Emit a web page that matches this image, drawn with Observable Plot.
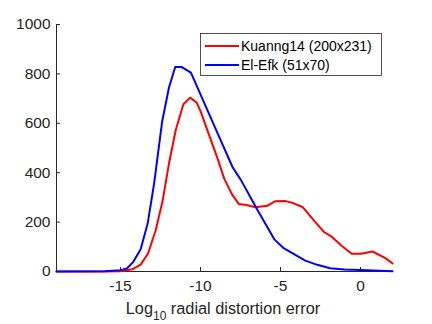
<!DOCTYPE html>
<html>
<head>
<meta charset="utf-8">
<script src="https://cdn.jsdelivr.net/npm/d3@7"></script>
<script src="https://cdn.jsdelivr.net/npm/@observablehq/plot@0.6"></script>
<style>
  html, body { margin: 0; padding: 0; background: #fff; }
  #chart { width: 432px; height: 324px; }
</style>
</head>
<body>
<div id="chart"></div>
<script>
// Series: Kuanng14 (200x231)
const kuangX = [-19, -16, -15, -14.8, -14.26, -13.74, -13.28, -12.8, -12.38, -11.97, -11.55, -11.07, -10.65, -10.23, -9.98, -9.35, -8.93, -8.52, -8.0, -7.6, -7.13, -6.56, -5.83, -5.35, -4.68, -4.17, -3.6, -2.85, -2.28, -1.8, -1.18, -0.55, 0.02, 0.75, 1.53, 2.0];
const kuangY = [0, 0, 1, 3, 9, 28, 73, 167, 282, 437, 572, 677, 704, 683, 646, 532, 457, 376, 309, 273, 269, 260, 266, 284, 285, 276, 260, 202, 160, 141, 104, 72, 72, 81, 55, 33];
// Series: El-Efk (51x70)
const elefkX = [-19, -16, -15, -14.6, -14.2, -13.74, -13.3, -12.9, -12.4, -11.97, -11.58, -11.2, -10.6, -8.93, -8.0, -7.47, -6.5, -5.37, -4.83, -4.1, -3.45, -2.7, -1.9, -1.0, 0, 2];
const elefkY = [0, 1, 5, 12, 39, 90, 195, 356, 606, 745, 828, 828, 805, 559, 423, 370, 256, 129, 96, 68, 44, 27, 13, 8, 6, 1];
const seriesNames = ["Kuanng14 (200x231)", "El-Efk (51x70)"];
const seriesColors = ["#ff0000", "#0000ff"];
const xTicks = [-15, -10, -5, 0];
const yTicks = [0, 200, 400, 600, 800, 1000];
const xDomain = [-19, 2];
const yDomain = [0, 1000];

const kuang = kuangX.map((x, i) => ({x, y: kuangY[i]}));
const elefk = elefkX.map((x, i) => ({x, y: elefkY[i]}));

const ink = "#262626";
const plot = Plot.plot({
  width: 432,
  height: 324,
  marginLeft: 56,
  marginRight: 40,
  marginTop: 24,
  marginBottom: 53,
  x: {domain: xDomain},
  y: {domain: yDomain},
  style: {fontFamily: "'Liberation Sans', Arial, sans-serif", color: ink, background: "#fff", overflow: "visible"},
  marks: [
    Plot.axisY({ticks: yTicks, tickSize: -4, tickPadding: 10, fontSize: 15.5, label: null, stroke: ink, tickFormat: d => String(d)}),
    Plot.axisX({ticks: xTicks, tickSize: -4, tickPadding: 12, fontSize: 15.5, label: null, stroke: ink, tickFormat: d => String(d)}),
    Plot.ruleX([xDomain[0]], {stroke: ink, strokeWidth: 1}),
    Plot.ruleY([yDomain[0]], {stroke: ink, strokeWidth: 1}),
    Plot.line(kuang, {x: "x", y: "y", stroke: seriesColors[0], strokeWidth: 2}),
    Plot.line(elefk, {x: "x", y: "y", stroke: seriesColors[1], strokeWidth: 2})
  ]
});

document.getElementById("chart").appendChild(plot);

const svg = d3.select(plot);
// x-axis label with subscript
const lbl = svg.append("text")
  .attr("x", 223).attr("y", 313.5)
  .attr("text-anchor", "middle")
  .attr("fill", ink)
  .style("font-size", "16.3px")
  .style("font-family", "'Liberation Sans', Arial, sans-serif");
lbl.append("tspan").text("Log");
lbl.append("tspan").attr("dy", 6).style("font-size", "12px").text("10");
lbl.append("tspan").attr("dy", -6).text(" radial distortion error");

// legend
const lg = svg.append("g").style("font-family", "'Liberation Sans', Arial, sans-serif");
lg.append("rect").attr("x", 200.5).attr("y", 33.5).attr("width", 181).attr("height", 42)
  .attr("fill", "#fff").attr("stroke", ink).attr("stroke-width", 0.8);
seriesNames.forEach((name, i) => {
  const yy = 46 + i * 19;
  lg.append("line").attr("x1", 205).attr("x2", 239).attr("y1", yy).attr("y2", yy)
    .attr("stroke", seriesColors[i]).attr("stroke-width", 2);
  lg.append("text").attr("x", 241).attr("y", yy).attr("dy", "0.35em")
    .attr("text-anchor", "start")
    .attr("fill", "#000").style("font-size", "14px").text(name);
});
</script>
</body>
</html>
